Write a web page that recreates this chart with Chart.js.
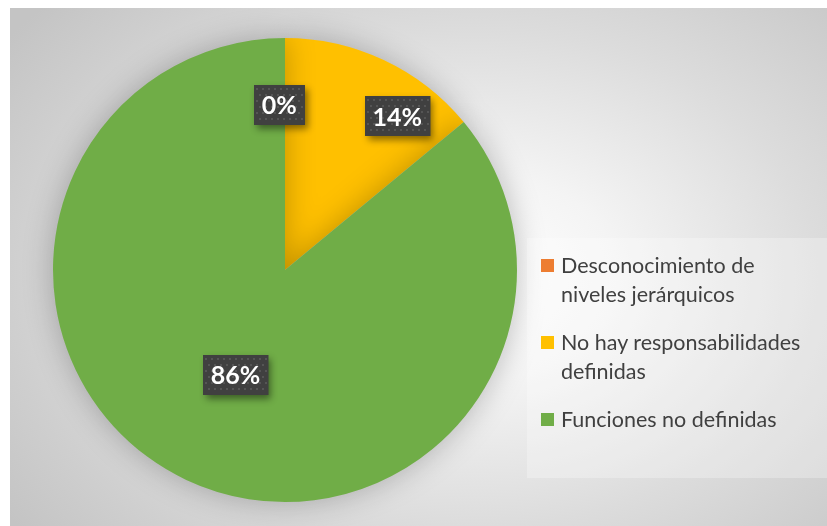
<!DOCTYPE html>
<html lang="es">
<head>
  <meta charset="UTF-8" />
  <title>Funciones y responsabilidades</title>
  <script src="https://cdn.jsdelivr.net/npm/chart.js"></script>
  <style>
    html, body {
      margin: 0;
      width: 827px;
      height: 526px;
      background: #ffffff;
      overflow: hidden;
    }
    .panel {
      position: absolute;
      left: 10px;
      top: 8px;
      width: 817px;
      height: 518px;
      background: radial-gradient(ellipse 70% 80% at 57% 52%, #ffffff 0%, #f4f4f4 25%, #dcdcdc 60%, #c4c4c4 100%);
    }
    #chart {
      position: absolute;
      left: 0;
      top: 0;
    }
    .legend {
      position: absolute;
      left: 517px;
      top: 230px;
      width: 300px;
      height: 240px;
      background: rgba(255, 255, 255, 0.28);
      font-family: Lato, "Liberation Sans", sans-serif;
      font-size: 21.5px;
      line-height: 28.5px;
      color: #404040;
      box-sizing: border-box;
      padding: 13px 0 0 14px;
    }
    .legend .item {
      position: relative;
      padding-left: 20px;
      margin-bottom: 20px;
      white-space: nowrap;
    }
    .legend .box {
      position: absolute;
      left: 0;
      top: 8px;
      width: 13px;
      height: 13px;
    }
  </style>
</head>
<body>
  <div class="panel">
    <canvas id="chart" width="817" height="518"></canvas>
    <div class="legend" id="legend"></div>
  </div>

  <script>
    const categories = [
      ['Desconocimiento de', 'niveles jerárquicos'],
      ['No hay responsabilidades', 'definidas'],
      ['Funciones no definidas']
    ];
    const percentages = [0, 14, 86];
    const sliceColors = ['#ED7D31', '#FFC000', '#70AD47'];

    // where each value box sits: fraction of the radius and a nudge (degrees) off the slice middle
    const labelRadius = [0.71, 0.82, 0.5];
    const labelNudge = [-2, 11, 0];

    // legend built from the same arrays
    const legend = document.getElementById('legend');
    categories.forEach((lines, i) => {
      const item = document.createElement('div');
      item.className = 'item';
      item.innerHTML = '<span class="box" style="background:' + sliceColors[i] + '"></span>' + lines.join('<br>');
      legend.appendChild(item);
    });

    // soft halo around the pie
    const pieShadow = {
      id: 'pieShadow',
      beforeDatasetsDraw(chart) {
        const ctx = chart.ctx;
        ctx.save();
        ctx.shadowColor = 'rgba(0, 0, 0, 0.25)';
        ctx.shadowBlur = 30;
        ctx.shadowOffsetX = 0;
        ctx.shadowOffsetY = 0;
      },
      afterDatasetsDraw(chart) {
        chart.ctx.restore();
      }
    };

    // dark value boxes with white percentages
    const valueBoxes = {
      id: 'valueBoxes',
      afterDatasetsDraw(chart) {
        const ctx = chart.ctx;
        const meta = chart.getDatasetMeta(0);
        ctx.save();
        ctx.font = 'bold 25px Lato, "Liberation Sans", sans-serif';
        ctx.textAlign = 'center';
        ctx.textBaseline = 'middle';
        meta.data.forEach((arc, i) => {
          const p = arc.getProps(['x', 'y', 'startAngle', 'endAngle', 'outerRadius'], true);
          const mid = (p.startAngle + p.endAngle) / 2 + labelNudge[i] * Math.PI / 180;
          const r = p.outerRadius * labelRadius[i];
          const cx = p.x + Math.cos(mid) * r;
          const cy = p.y + Math.sin(mid) * r;
          const text = percentages[i] + '%';
          const w = ctx.measureText(text).width + 16;
          const h = 40;
          const x0 = Math.round(cx - w / 2);
          const y0 = Math.round(cy - h / 2);

          ctx.save();
          ctx.shadowColor = 'rgba(0, 0, 0, 0.45)';
          ctx.shadowBlur = 7;
          ctx.shadowOffsetX = 3;
          ctx.shadowOffsetY = 4;
          ctx.fillStyle = '#404040';
          ctx.fillRect(x0, y0, w, h);
          ctx.restore();

          // dotted texture
          ctx.fillStyle = '#555555';
          for (let yy = y0 + 3; yy < y0 + h - 2; yy += 6) {
            const shift = ((yy - y0 - 3) / 6) % 2 ? 3 : 0;
            for (let xx = x0 + 2 + shift; xx < x0 + w - 2; xx += 6) {
              ctx.fillRect(xx, yy, 2, 2);
            }
          }

          ctx.fillStyle = '#ffffff';
          ctx.fillText(text, cx, cy + 1);
        });
        ctx.restore();
      }
    };

    new Chart(document.getElementById('chart'), {
      type: 'pie',
      data: {
        labels: categories.map(l => l.join(' ')),
        datasets: [{
          data: percentages,
          backgroundColor: sliceColors,
          borderWidth: 0
        }]
      },
      options: {
        responsive: false,
        animation: false,
        layout: {
          padding: { left: 43, top: 30, right: 310, bottom: 24 }
        },
        plugins: {
          legend: { display: false },
          tooltip: { enabled: false }
        }
      },
      plugins: [pieShadow, valueBoxes]
    });
  </script>
</body>
</html>
